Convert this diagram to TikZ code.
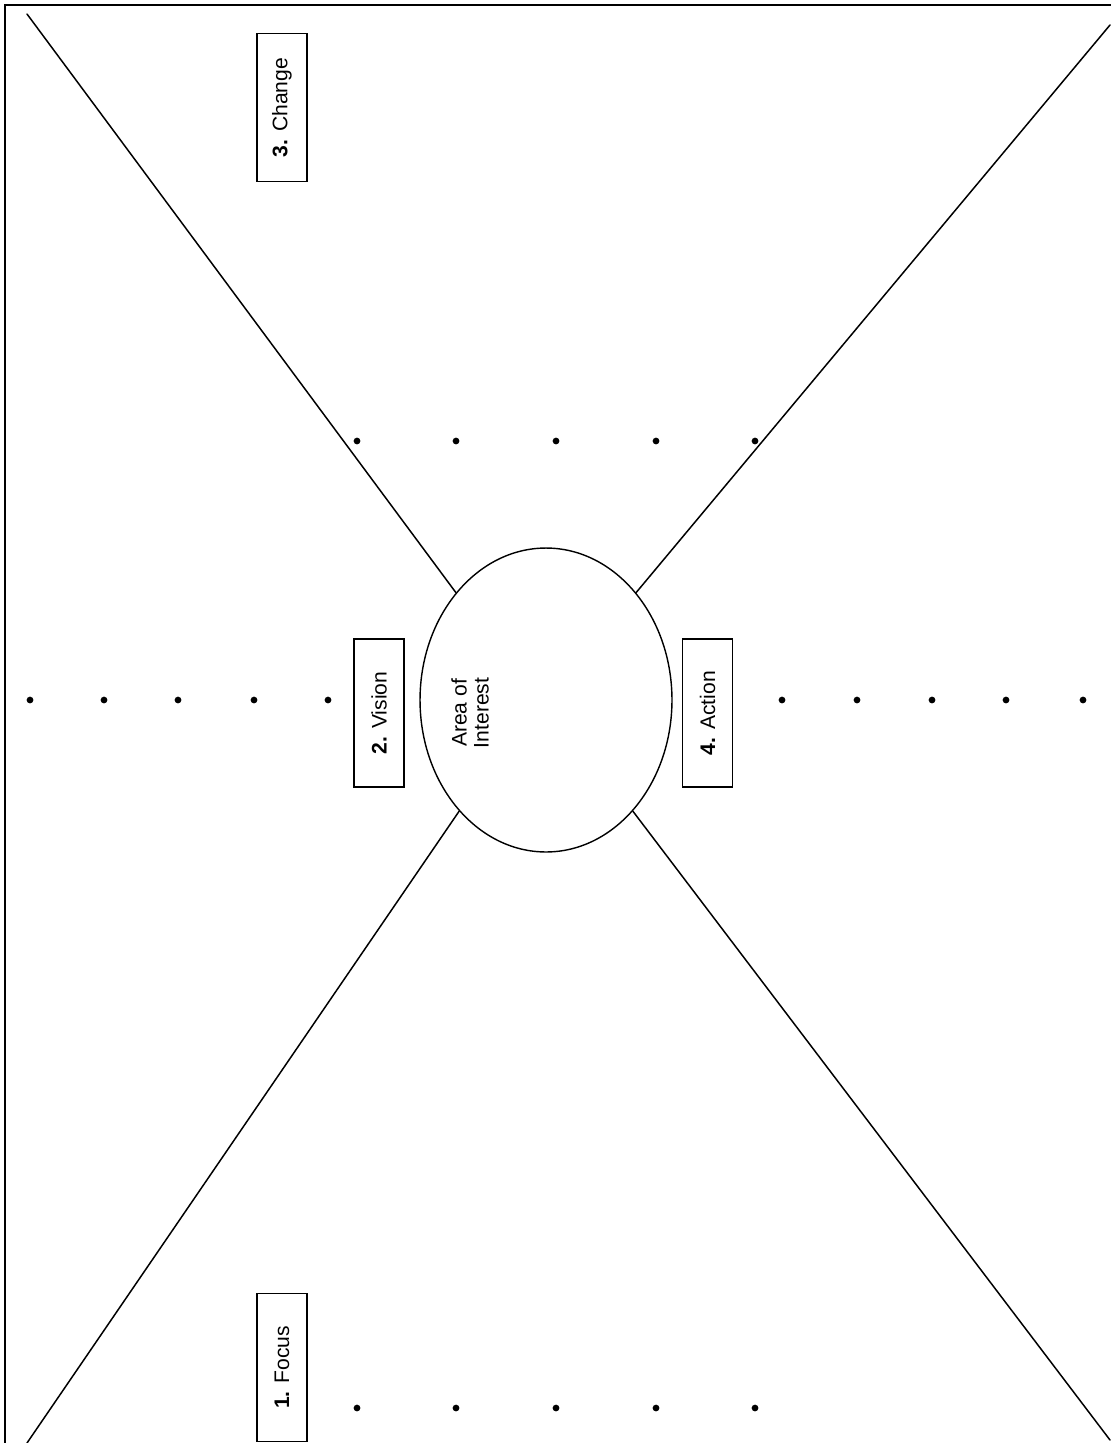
\documentclass[tikz,border=0pt]{standalone}
\usepackage{fontspec}
\setmainfont{Liberation Sans}
\usetikzlibrary{shapes.geometric}

\begin{document}
\begin{tikzpicture}[x=0.02cm,y=-0.02cm]
\tikzset{
  stagebox/.style={draw=black,line width=0.7pt,rotate=90,minimum width=2.96cm,minimum height=1.0cm,inner sep=1pt,font=\fontsize{12}{14}\selectfont},
  centre/.style={ellipse,draw=black,line width=0.8pt,minimum width=5.04cm,minimum height=6.08cm,inner sep=0pt},
  centretext/.style={rotate=90,align=center,inner sep=0pt,font=\fontsize{12}{12.5}\selectfont},
  spoke/.style={draw=black,line width=0.85pt,line cap=round},
  gapdot/.style={circle,fill=black,minimum size=1.35mm,inner sep=0pt},
  frame/.style={draw=black,line width=1.2pt}
}
\useasboundingbox (0,0) rectangle (1110,1443);
\draw[frame] (5,1460) -- (5,5) -- (1130,5);
\node[centre] (n_aoi) at (546,700) {};
\node[centretext] (n_aoitext) at (470,713) {Area of\\Interest};
\node[stagebox] (n_focus) at (282,1367.5) {\textbf{1.} Focus};
\node[stagebox] (n_vision) at (379,713) {\textbf{2.} Vision};
\node[stagebox] (n_change) at (282,107.5) {\textbf{3.} Change};
\node[stagebox] (n_action) at (707.5,713) {\textbf{4.} Action};
\coordinate (c_tl) at (27,14);
\coordinate (c_tr) at (1110,25);
\coordinate (c_bl) at (27,1443);
\coordinate (c_br) at (1110,1440);
\draw[spoke] (c_tl) -- (n_aoi.130);
\draw[spoke] (c_tr) -- (n_aoi.50);
\draw[spoke] (c_bl) -- (n_aoi.232);
\draw[spoke] (c_br) -- (n_aoi.308);
\foreach \x [count=\i] in {357,456,556,656,755} {
  \node[gapdot] (n_top\i) at (\x,441) {};
  \node[gapdot] (n_bot\i) at (\x,1408) {};
}
\foreach \x [count=\i] in {30,104,178,254,328}
  \node[gapdot] (n_left\i) at (\x,700) {};
\foreach \x [count=\i] in {782,857,932,1006,1083}
  \node[gapdot] (n_right\i) at (\x,700) {};
\end{tikzpicture}
\end{document}
